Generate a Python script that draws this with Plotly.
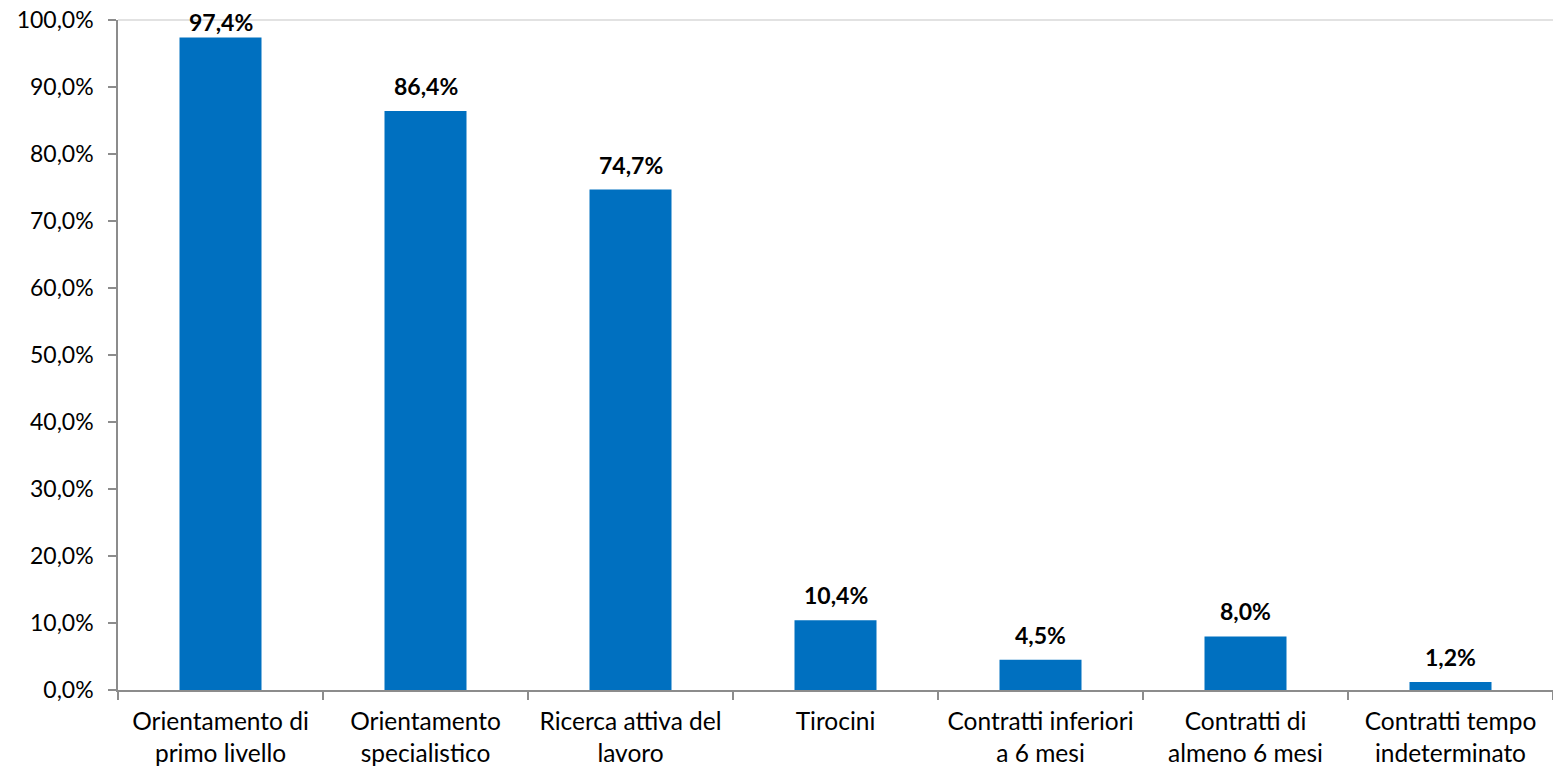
import plotly.graph_objects as go

categories = [
    "Orientamento di<br>primo livello",
    "Orientamento<br>specialistico",
    "Ricerca attiva del<br>lavoro",
    "Tirocini",
    "Contratti inferiori<br>a 6 mesi",
    "Contratti di<br>almeno 6 mesi",
    "Contratti tempo<br>indeterminato",
]
values = [97.4, 86.4, 74.7, 10.4, 4.5, 8.0, 1.2]
y_ticks = [0, 10, 20, 30, 40, 50, 60, 70, 80, 90, 100]
y_tick_text = [f"{v:.1f}".replace(".", ",") + "%" for v in y_ticks]

FONT = "Lato, Noto Sans, sans-serif"

fig = go.Figure(go.Bar(
    x=categories, y=values,
    marker=dict(color="#0070C0", line=dict(width=0)),
    width=0.4,
    cliponaxis=False,
))

for c, v in zip(categories, values):
    fig.add_annotation(
        x=c, y=v, text="<b>" + f"{v:.1f}".replace(".", ",") + "%</b>",
        showarrow=False, yanchor="middle",
        yshift=25 if v < 95 else 15,
        font=dict(size=23, color="#000000", family=FONT),
    )

fig.update_layout(
    width=1553, height=770,
    margin=dict(l=118, r=0, t=20, b=80),
    paper_bgcolor="white", plot_bgcolor="white",
    showlegend=False,
    font=dict(family=FONT, size=23, color="#000000"),
    bargap=0.6,
)
fig.update_yaxes(
    range=[0, 100], tickvals=y_ticks, ticktext=y_tick_text,
    showgrid=False, zeroline=False,
    showline=True, linecolor="#8C8C8C", linewidth=1.5,
    ticks="outside", ticklen=8, tickcolor="#8C8C8C", tickwidth=1.5,
    ticklabelstandoff=10,
    tickfont=dict(size=23),
)
fig.update_xaxes(
    showgrid=False, showline=True, linecolor="#8C8C8C", linewidth=1.5,
    ticks="outside", ticklen=8, tickcolor="#8C8C8C", tickwidth=1.5,
    tickson="boundaries",
    ticklabelstandoff=9,
    tickfont=dict(size=24.5),
)
fig.add_shape(type="line", xref="paper", yref="paper", x0=0, x1=1, y0=1, y1=1,
              line=dict(color="#D9D9D9", width=1.5))

fig.write_html("out.html")
